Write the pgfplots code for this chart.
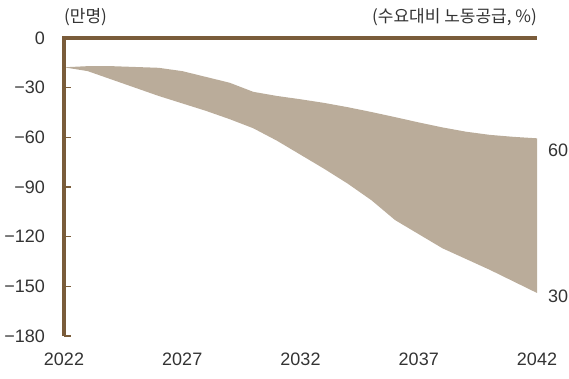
\documentclass[border=0pt]{standalone}
\usepackage{pgfplots}
\pgfplotsset{compat=1.18}
\usepgfplotslibrary{fillbetween}
\usepackage{fontspec}
\setmainfont{Liberation Sans}
\newfontfamily\kr{Noto Sans CJK KR}
\definecolor{axbrown}{HTML}{7A5C3A}
\definecolor{areafill}{HTML}{BAAC9A}
\definecolor{txt}{HTML}{333333}
\begin{document}
\begin{tikzpicture}
\begin{axis}[
  name=ax,
  scale only axis,
  width=473pt, height=298pt,
  xmin=2022, xmax=2042,
  ymin=-180, ymax=0,
  xtick={2022,2027,2032,2037,2042},
  xticklabels={2022,2027,2032,2037,2042},
  ytick={-180,-150,-120,-90,-60,-30,0},
  yticklabels={−180,−150,−120,−90,−60,−30,0},
  axis x line*=bottom,
  axis y line*=left,
  x axis line style={draw=none},
  y axis line style={draw=none},
  xtick style={draw=none},
  ytick style={axbrown, line width=1.2pt},
  tick align=inside,
  major tick length=7pt,
  clip=false,
  font=\fontsize{18}{20}\selectfont,
  tick label style={text=txt, inner sep=0pt},
  xticklabel style={anchor=center, yshift=-23pt},
  yticklabel style={anchor=east, xshift=-19pt},
]
\addplot[name path=upper, draw=none] coordinates {
(2022,-17.7) (2023,-17) (2024,-17) (2025,-17.5) (2026,-18) (2027,-20) (2028,-23.5) (2029,-27) (2030,-32.5) (2031,-35) (2032,-37) (2033,-39.2) (2034,-41.8) (2035,-44.7) (2036,-47.8) (2037,-51) (2038,-54) (2039,-56.6) (2040,-58.5) (2041,-59.7) (2042,-60.6)};
\addplot[name path=lower, draw=none] coordinates {
(2022,-17.7) (2023,-20) (2024,-25) (2025,-30) (2026,-35) (2027,-39.5) (2028,-44) (2029,-49) (2030,-54.5) (2031,-62) (2032,-70.5) (2033,-79) (2034,-88) (2035,-98) (2036,-110) (2037,-118.5) (2038,-127) (2039,-133.5) (2040,-140) (2041,-147) (2042,-154)};
\addplot[areafill, draw=none] fill between[of=upper and lower];
\draw[axbrown, line width=3.5pt] (axis cs:2022,-180) -- (axis cs:2022,0) -- (axis cs:2042,0);
\node[anchor=west, text=txt, inner sep=0pt] at ([xshift=11pt]axis cs:2042,-67.6) {60};
\node[anchor=west, text=txt, inner sep=0pt] at ([xshift=11pt]axis cs:2042,-155.8) {30};
\node[anchor=west, text=txt, inner sep=0pt, font=\kr\fontsize{17}{19}\selectfont] at ([yshift=21pt]axis cs:2022,0) {(만명)};
\node[anchor=east, text=txt, inner sep=0pt, font=\kr\fontsize{17}{19}\selectfont] at ([yshift=21pt]axis cs:2042,0) {(수요대비 노동공급, \%)};
\end{axis}
\path[use as bounding box] ([xshift=-64pt,yshift=-42pt]ax.south west) rectangle ([xshift=32pt,yshift=38pt]ax.north east);
\end{tikzpicture}
\end{document}
